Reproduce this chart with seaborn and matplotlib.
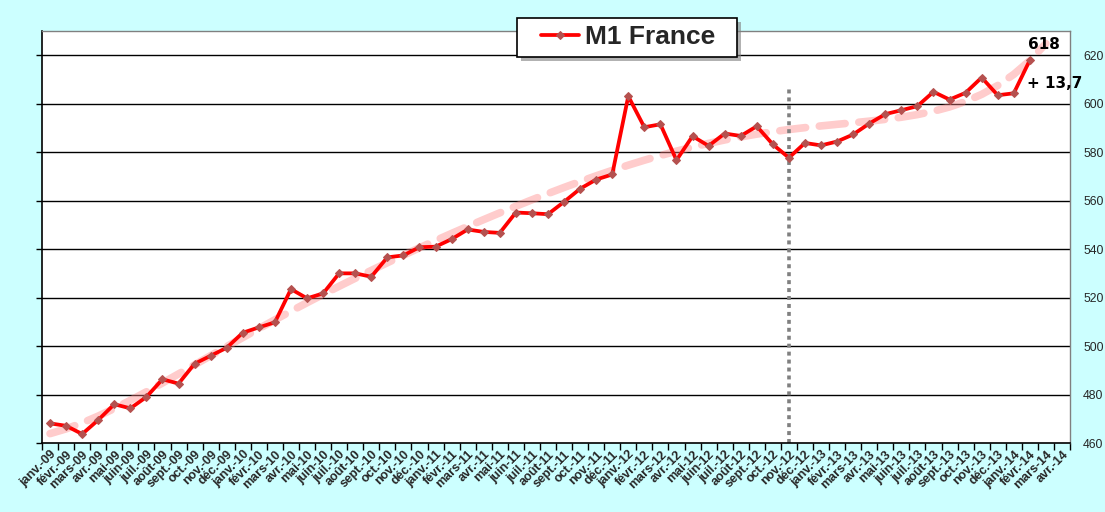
import numpy as np
import pandas as pd
import matplotlib
matplotlib.use("Agg")
import matplotlib.pyplot as plt
import matplotlib.patches as mpatches
import seaborn as sns

# ---- data ----
month_abbr = ["janv.", "févr.", "mars", "avr.", "mai", "juin",
              "juil.", "août", "sept.", "oct.", "nov.", "déc."]
years = ["09", "10", "11", "12", "13", "14"]
categories = [f"{m}-{y}" for y in years for m in month_abbr][:64]  # janv.-09 .. avr.-14

m1_values = [468.1, 467.1, 463.7, 469.5, 476.0, 474.3, 479.0, 486.3, 484.5, 492.7,
             496.0, 499.3, 505.5, 507.7, 509.8, 523.5, 519.7, 521.7, 530.0, 530.0,
             528.6, 536.6, 537.4, 540.8, 541.0, 544.1, 548.1, 547.1, 546.7, 555.1,
             554.8, 554.4, 559.5, 564.9, 568.7, 570.8, 603.1, 590.3, 591.5, 576.7,
             586.6, 582.6, 587.7, 586.7, 590.7, 583.2, 577.7, 583.8, 582.8, 584.4,
             587.3, 591.8, 595.7, 597.3, 599.0, 604.9, 601.7, 604.5, 610.8, 603.5,
             604.3, 618.0]
series_name = "M1 France"
y_ticks = [460, 480, 500, 520, 540, 560, 580, 600, 620]
marker_month = "nov.-12"
last_label = "618"
delta_label = "+ 13,7"

# ---- figure ----
sns.set_theme(style="white")
plt.rcParams['font.family'] = ['DejaVu Sans']

bg = "#CCFFFF"
fig = plt.figure(figsize=(11.05, 5.12), dpi=100, facecolor=bg)
ax = fig.add_axes([42/1105, 69/512, 1028/1105, 412/512])
ax.set_facecolor("white")

n = len(m1_values)
df = pd.DataFrame({"idx": np.arange(n), "value": m1_values, "mois": categories[:n]})

# polynomial trend (order 6) of the series, extended one period
xfit = np.arange(1, n + 1)
coef = np.polyfit(xfit, np.array(m1_values), 6)
xt = np.arange(1, n + 2)
trend = np.polyval(coef, xt)
ax.plot(xt - 1, trend, color="#FF8080", alpha=0.4, lw=5.5,
        linestyle=(0, (3.4, 1.8)), dash_capstyle="round", zorder=2)

# main series
sns.lineplot(data=df, x="idx", y="value", ax=ax, color="#FF0000", lw=2.7,
             marker="D", markersize=4.2, markerfacecolor="#B5514F",
             markeredgecolor="#B5514F", label=series_name, zorder=3)

# vertical marker
xv = categories.index(marker_month)
ax.vlines(xv, 460, 607.5, colors="#808080", lw=2.6, linestyles=[(0, (1.1, 1.1))], zorder=2)

# grid
for yt in y_ticks[1:]:
    ax.axhline(yt, color="black", lw=1.0, zorder=1)

ax.set_xlim(-0.5, len(categories) - 0.5)
ax.set_ylim(460, 630)

# x axis: ticks at boundaries, labels at centres
ax.set_xticks(np.arange(-0.5, len(categories), 1.0))
ax.set_xticklabels([])
ax.set_xticks(np.arange(len(categories)), minor=True)
ax.set_xticklabels(categories, minor=True, rotation=45, ha="right",
                   rotation_mode="anchor", fontsize=9, fontweight="bold",
                   family="Liberation Sans")
ax.tick_params(axis="x", which="major", direction="out", length=5, width=1, color="black", bottom=True)
ax.tick_params(axis="x", which="minor", length=0, pad=4)

# y axis
ax.set_yticks(y_ticks)
ax.set_yticklabels([str(v) for v in y_ticks], fontsize=8.8, family="Liberation Sans")
ax.tick_params(axis="y", left=True, labelleft=False, right=False, labelright=True,
               direction="out", length=4, width=1, color="black")
for lab in ax.get_yticklabels():
    pass
ax.yaxis.set_tick_params(which="major", pad=5.5)

for s in ["left", "bottom"]:
    ax.spines[s].set_color("black")
    ax.spines[s].set_linewidth(1.2)
for s in ["top", "right"]:
    ax.spines[s].set_color("#808080")
    ax.spines[s].set_linewidth(1.0)

ax.set_xlabel("")
ax.set_ylabel("")

# annotations
ax.annotate(last_label, (n - 1, m1_values[-1]), textcoords="offset pixels", xytext=(14, 16),
            ha="center", va="center", fontsize=11, fontweight="bold", color="black")
ax.annotate(delta_label, (n - 1, m1_values[-1]), textcoords="offset pixels", xytext=(-3, -23),
            ha="left", va="center", fontsize=11, fontweight="bold", color="black")

# legend box (drawn as figure patches) + legend content
W, H = 1105, 512
bx0, by0, bw, bh = 517, 512 - 57, 220, 39
fig.patches.append(mpatches.Rectangle(((bx0 + 4) / W, (by0 - 4) / H), bw / W, bh / H,
                                      transform=fig.transFigure, facecolor="#808080",
                                      alpha=0.6, edgecolor="none", zorder=5))
fig.patches.append(mpatches.Rectangle((bx0 / W, by0 / H), bw / W, bh / H,
                                      transform=fig.transFigure, facecolor="white",
                                      edgecolor="black", lw=1.2, zorder=6))
leg = ax.legend(loc="center", bbox_to_anchor=((bx0 + bw / 2 + 1) / W, (by0 + bh / 2) / H),
                bbox_transform=fig.transFigure, frameon=False, handlelength=1.45,
                prop={"family": "Liberation Sans", "weight": "bold", "size": 19},
                borderpad=0.2, handletextpad=0.2)
leg.remove()
fig.add_artist(leg)
leg.set_zorder(7)

fig.savefig("out.png", dpi=100, facecolor=bg)
